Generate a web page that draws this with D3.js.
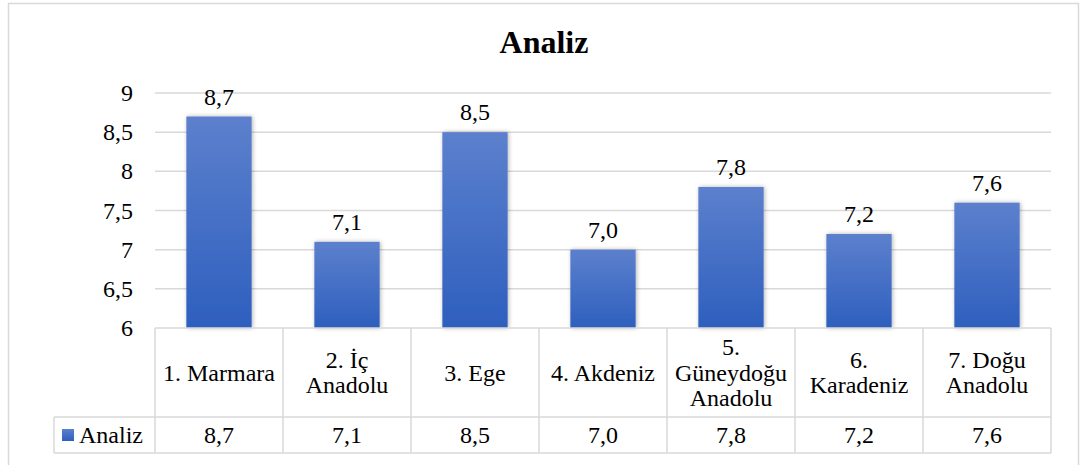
<!DOCTYPE html>
<html>
<head>
<meta charset="utf-8">
<script src="https://cdn.jsdelivr.net/npm/d3@7"></script>
<style>
  body { margin: 0; background: #fff; }
  svg text { font-family: "Liberation Serif", "Times New Roman", serif; }
</style>
</head>
<body>
<svg id="chart" width="1080" height="465"></svg>
<script>
const categories = [
  ['1. Marmara'],
  ['2. İç', 'Anadolu'],
  ['3. Ege'],
  ['4. Akdeniz'],
  ['5.', 'Güneydoğu', 'Anadolu'],
  ['6.', 'Karadeniz'],
  ['7. Doğu', 'Anadolu'],
];
const values = [8.7, 7.1, 8.5, 7.0, 7.8, 7.2, 7.6];
const seriesName = 'Analiz';
const yTicks = [6, 6.5, 7, 7.5, 8, 8.5, 9];

const fmt = v => d3.format('.1f')(v).replace('.', ',');
const fmtTick = v => String(v).replace('.', ',');

// layout
const PLOT_LEFT = 155;
const PLOT_RIGHT = 1051;
const PLOT_TOP = 93;
const PLOT_BOTTOM = 328;
const CAT_ROW_BOTTOM = 417;
const VAL_ROW_BOTTOM = 453;
const LEGEND_LEFT = 54;
const GRID = '#d9d9d9';
const FONT_SIZE = 24;

const svg = d3.select('#chart');

// gradient + shadow
const defs = svg.append('defs');
const grad = defs.append('linearGradient')
  .attr('id', 'barGrad').attr('x1', 0).attr('y1', 0).attr('x2', 0).attr('y2', 1);
grad.append('stop').attr('offset', '0%').attr('stop-color', '#5c80cd');
grad.append('stop').attr('offset', '100%').attr('stop-color', '#2e5fbe');
const shadow = defs.append('filter').attr('id', 'shadow')
  .attr('x', '-20%').attr('y', '-10%').attr('width', '140%').attr('height', '120%');
shadow.append('feDropShadow').attr('dx', 1).attr('dy', 0).attr('stdDeviation', 2)
  .attr('flood-color', '#000').attr('flood-opacity', 0.3);

// outer frame
svg.append('rect')
  .attr('x', 8.5).attr('y', 3.5).attr('width', 1070).attr('height', 470)
  .attr('fill', '#fff').attr('stroke', GRID).attr('stroke-width', 1.5);

const x = d3.scaleBand()
  .domain(d3.range(values.length))
  .range([PLOT_LEFT, PLOT_RIGHT])
  .paddingInner(0.49).paddingOuter(0.245);
const xCol = d3.scaleBand()
  .domain(d3.range(values.length))
  .range([PLOT_LEFT, PLOT_RIGHT]);
const y = d3.scaleLinear().domain([6, 9]).range([PLOT_BOTTOM, PLOT_TOP]);

// gridlines
svg.append('g')
  .selectAll('line')
  .data(yTicks.slice(1))
  .join('line')
  .attr('x1', PLOT_LEFT).attr('x2', PLOT_RIGHT)
  .attr('y1', d => y(d)).attr('y2', d => y(d))
  .attr('stroke', GRID).attr('stroke-width', 1.5);

// y tick labels
svg.append('g')
  .selectAll('text')
  .data(yTicks)
  .join('text')
  .attr('x', 133)
  .attr('y', d => y(d))
  .attr('dy', '0.34em')
  .attr('text-anchor', 'end')
  .attr('font-size', FONT_SIZE)
  .attr('fill', '#000')
  .text(fmtTick);

// bars
svg.append('g')
  .selectAll('rect')
  .data(values)
  .join('rect')
  .attr('x', (d, i) => x(i))
  .attr('width', x.bandwidth())
  .attr('y', d => y(d))
  .attr('height', d => PLOT_BOTTOM - y(d))
  .attr('fill', 'url(#barGrad)')
  .attr('filter', 'url(#shadow)');

// data labels
svg.append('g')
  .selectAll('text')
  .data(values)
  .join('text')
  .attr('x', (d, i) => x(i) + x.bandwidth() / 2)
  .attr('y', d => y(d) - 12)
  .attr('text-anchor', 'middle')
  .attr('font-size', FONT_SIZE)
  .attr('fill', '#000')
  .text(fmt);

// title
svg.append('text')
  .attr('x', 544).attr('y', 53)
  .attr('text-anchor', 'middle')
  .attr('font-size', 32).attr('font-weight', 'bold')
  .attr('fill', '#000')
  .text('Analiz');

// data table
const table = svg.append('g').attr('stroke', GRID).attr('stroke-width', 1.5);
table.append('line').attr('x1', PLOT_LEFT).attr('x2', PLOT_RIGHT)
  .attr('y1', PLOT_BOTTOM).attr('y2', PLOT_BOTTOM);
table.append('line').attr('x1', LEGEND_LEFT).attr('x2', PLOT_RIGHT)
  .attr('y1', CAT_ROW_BOTTOM).attr('y2', CAT_ROW_BOTTOM);
table.append('line').attr('x1', LEGEND_LEFT).attr('x2', PLOT_RIGHT)
  .attr('y1', VAL_ROW_BOTTOM).attr('y2', VAL_ROW_BOTTOM);
table.append('line').attr('x1', LEGEND_LEFT).attr('x2', LEGEND_LEFT)
  .attr('y1', CAT_ROW_BOTTOM).attr('y2', VAL_ROW_BOTTOM);
table.selectAll('line.col')
  .data(d3.range(values.length + 1))
  .join('line')
  .attr('class', 'col')
  .attr('x1', i => i < values.length ? xCol(i) : PLOT_RIGHT)
  .attr('x2', i => i < values.length ? xCol(i) : PLOT_RIGHT)
  .attr('y1', PLOT_BOTTOM).attr('y2', VAL_ROW_BOTTOM);

// category labels
const LINE_H = 25.5;
const catMid = (PLOT_BOTTOM + CAT_ROW_BOTTOM) / 2;
svg.append('g')
  .selectAll('text')
  .data(categories)
  .join('text')
  .attr('x', (d, i) => xCol(i) + xCol.bandwidth() / 2)
  .attr('text-anchor', 'middle')
  .attr('font-size', FONT_SIZE)
  .attr('fill', '#000')
  .each(function(lines) {
    const t = d3.select(this);
    const y0 = catMid - (lines.length - 1) * LINE_H / 2;
    lines.forEach((ln, k) => {
      t.append('tspan')
        .attr('x', t.attr('x'))
        .attr('y', y0 + k * LINE_H)
        .attr('dy', '0.34em')
        .text(ln);
    });
  });

// value row
const valMid = (CAT_ROW_BOTTOM + VAL_ROW_BOTTOM) / 2;
svg.append('g')
  .selectAll('text')
  .data(values)
  .join('text')
  .attr('x', (d, i) => xCol(i) + xCol.bandwidth() / 2)
  .attr('y', valMid)
  .attr('dy', '0.34em')
  .attr('text-anchor', 'middle')
  .attr('font-size', FONT_SIZE)
  .attr('fill', '#000')
  .text(fmt);

// legend key
svg.append('rect')
  .attr('x', 62).attr('y', valMid - 6)
  .attr('width', 12).attr('height', 12)
  .attr('fill', 'url(#barGrad)');
svg.append('text')
  .attr('x', 79).attr('y', valMid)
  .attr('dy', '0.34em')
  .attr('font-size', FONT_SIZE)
  .attr('fill', '#000')
  .text(seriesName);
</script>
</body>
</html>
